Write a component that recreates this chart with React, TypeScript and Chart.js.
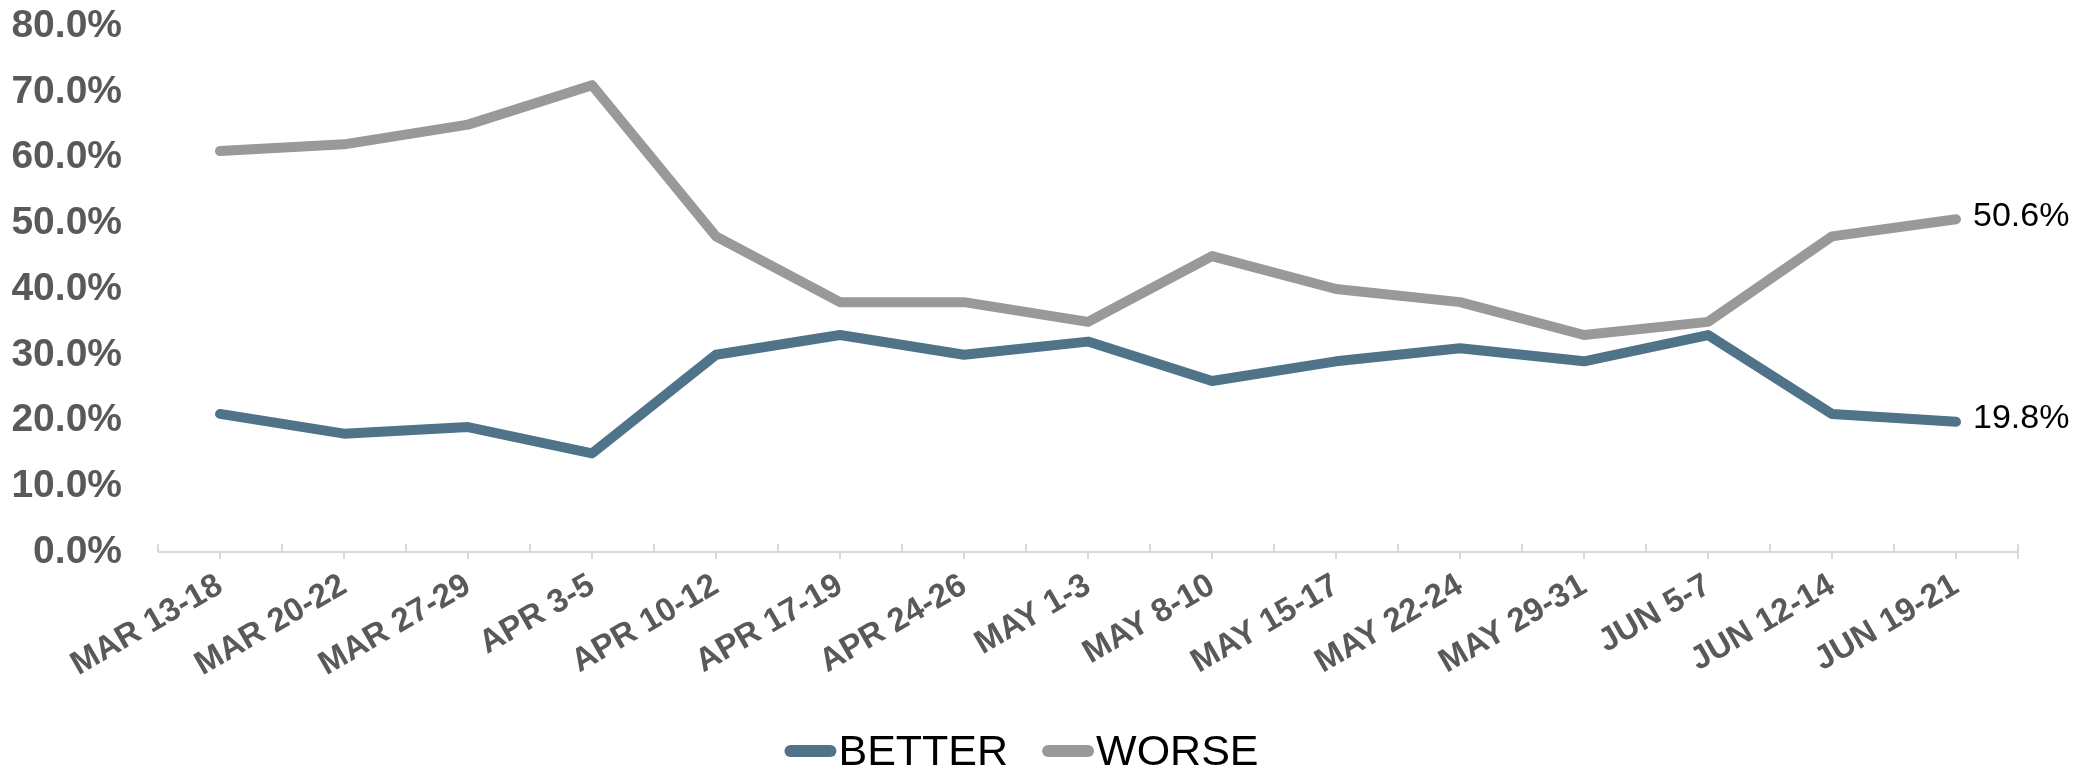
import React, { useEffect, useRef } from "react";
import { Chart, registerables } from "chart.js";

Chart.register(...registerables);

const categories = [
  "MAR 13-18", "MAR 20-22", "MAR 27-29", "APR 3-5", "APR 10-12",
  "APR 17-19", "APR 24-26", "MAY 1-3", "MAY 8-10", "MAY 15-17",
  "MAY 22-24", "MAY 29-31", "JUN 5-7", "JUN 12-14", "JUN 19-21",
];
const betterValues = [21, 18, 19, 15, 30, 33, 30, 32, 26, 29, 31, 29, 33, 21, 19.8];
const worseValues = [61, 62, 65, 71, 48, 38, 38, 35, 45, 40, 38, 33, 35, 48, 50.6];
const seriesNames = ["BETTER", "WORSE"];
const seriesColors = ["#4F7489", "#999999"];
const yTickValues = [0, 10, 20, 30, 40, 50, 60, 70, 80];

const FONT = "'Liberation Sans', Arial, sans-serif";

const axisTicksPlugin = {
  id: "axisTicks",
  afterDraw(chart: any) {
    const x = chart.scales.x;
    const ctx = chart.ctx;
    const y0 = chart.chartArea.bottom;
    const n = chart.data.labels.length;
    const w = (x.right - x.left) / n;
    ctx.save();
    ctx.strokeStyle = "#D9D9D9";
    ctx.lineWidth = 2;
    ctx.beginPath();
    ctx.moveTo(x.left, y0);
    ctx.lineTo(x.right, y0);
    for (let i = 0; i <= n; i++) {
      const bx = x.left + i * w;
      ctx.moveTo(bx, y0);
      ctx.lineTo(bx, y0 - 8);
    }
    ctx.moveTo(x.right, y0);
    ctx.lineTo(x.right, y0 + 7);
    for (let i = 0; i < n; i++) {
      const cx = x.getPixelForValue(i);
      ctx.moveTo(cx, y0);
      ctx.lineTo(cx, y0 + 7);
    }
    ctx.stroke();
    ctx.restore();
  },
};

const endLabelsPlugin = {
  id: "endLabels",
  afterDatasetsDraw(chart: any) {
    const ctx = chart.ctx;
    ctx.save();
    ctx.font = `34px ${FONT}`;
    ctx.fillStyle = "#000000";
    ctx.textAlign = "left";
    ctx.textBaseline = "middle";
    chart.data.datasets.forEach((ds: any, di: number) => {
      const meta = chart.getDatasetMeta(di);
      const last = meta.data.length - 1;
      const pt = meta.data[last];
      const v = ds.data[last];
      ctx.fillText(`${v.toFixed(1)}%`, pt.x + 17, pt.y - 3);
    });
    ctx.restore();
  },
};

const legendPlugin = {
  id: "customLegend",
  afterDraw(chart: any) {
    const ctx = chart.ctx;
    const swatch = 52;
    const gapText = 2;
    const gapItem = 34;
    const cy = 751;
    ctx.save();
    ctx.font = `43px ${FONT}`;
    const items = chart.data.datasets.map((ds: any) => ({
      label: ds.label,
      color: ds.borderColor,
      tw: ctx.measureText(ds.label).width,
    }));
    let total = 0;
    items.forEach((it: any, i: number) => {
      total += swatch + gapText + it.tw + (i < items.length - 1 ? gapItem : 0);
    });
    let x = chart.width / 2 - 18 - total / 2;
    items.forEach((it: any) => {
      ctx.strokeStyle = it.color;
      ctx.lineWidth = 12;
      ctx.lineCap = "round";
      ctx.beginPath();
      ctx.moveTo(x + 6, cy);
      ctx.lineTo(x + swatch - 6, cy);
      ctx.stroke();
      ctx.fillStyle = "#000000";
      ctx.textAlign = "left";
      ctx.textBaseline = "middle";
      ctx.fillText(it.label, x + swatch + gapText, cy + 2);
      x += swatch + gapText + it.tw + gapItem;
    });
    ctx.restore();
  },
};

const zeroPadding = (s: any) => {
  s.paddingTop = 0;
  s.paddingBottom = 0;
  s.paddingLeft = 0;
  s.paddingRight = 0;
};

export default function App() {
  const ref = useRef<HTMLCanvasElement | null>(null);

  useEffect(() => {
    if (!ref.current) return;
    const chart = new Chart(ref.current, {
      type: "line",
      data: {
        labels: categories,
        datasets: [
          {
            label: seriesNames[0],
            data: betterValues,
            borderColor: seriesColors[0],
            backgroundColor: seriesColors[0],
            borderWidth: 10,
            borderCapStyle: "round",
            borderJoinStyle: "round",
            pointRadius: 0,
            tension: 0,
          },
          {
            label: seriesNames[1],
            data: worseValues,
            borderColor: seriesColors[1],
            backgroundColor: seriesColors[1],
            borderWidth: 10,
            borderCapStyle: "round",
            borderJoinStyle: "round",
            pointRadius: 0,
            tension: 0,
          },
        ],
      },
      options: {
        responsive: false,
        animation: false,
        devicePixelRatio: 1,
        layout: { autoPadding: false, padding: { left: 12, right: 61, top: 26, bottom: 0 } },
        plugins: {
          legend: { display: false },
          tooltip: { enabled: false },
        },
        scales: {
          x: {
            type: "category",
            offset: true,
            grid: { display: false, drawTicks: false },
            border: { display: false },
            afterFit: (s: any) => {
              s.height = 219;
              zeroPadding(s);
            },
            ticks: {
              autoSkip: false,
              minRotation: 30,
              maxRotation: 30,
              padding: 14,
              color: "#595959",
              font: { family: FONT, size: 33, weight: "bold" },
            },
          },
          y: {
            min: 0,
            max: 80,
            afterBuildTicks: (scale: any) => {
              scale.ticks = yTickValues.map((v) => ({ value: v }));
            },
            afterFit: (s: any) => {
              s.width = 146;
              zeroPadding(s);
            },
            grid: { display: false, drawTicks: false },
            border: { display: false },
            ticks: {
              padding: 36,
              color: "#595959",
              font: { family: FONT, size: 39, weight: "bold" },
              callback: (v: any) => `${Number(v).toFixed(1)}%`,
            },
          },
        },
      },
      plugins: [axisTicksPlugin, endLabelsPlugin, legendPlugin],
    });
    return () => chart.destroy();
  }, []);

  return (
    <div style={{ position: "fixed", left: 0, top: 0, width: 2079, height: 771, background: "#FFFFFF" }}>
      <canvas ref={ref} width={2079} height={771} style={{ display: "block" }} />
    </div>
  );
}
